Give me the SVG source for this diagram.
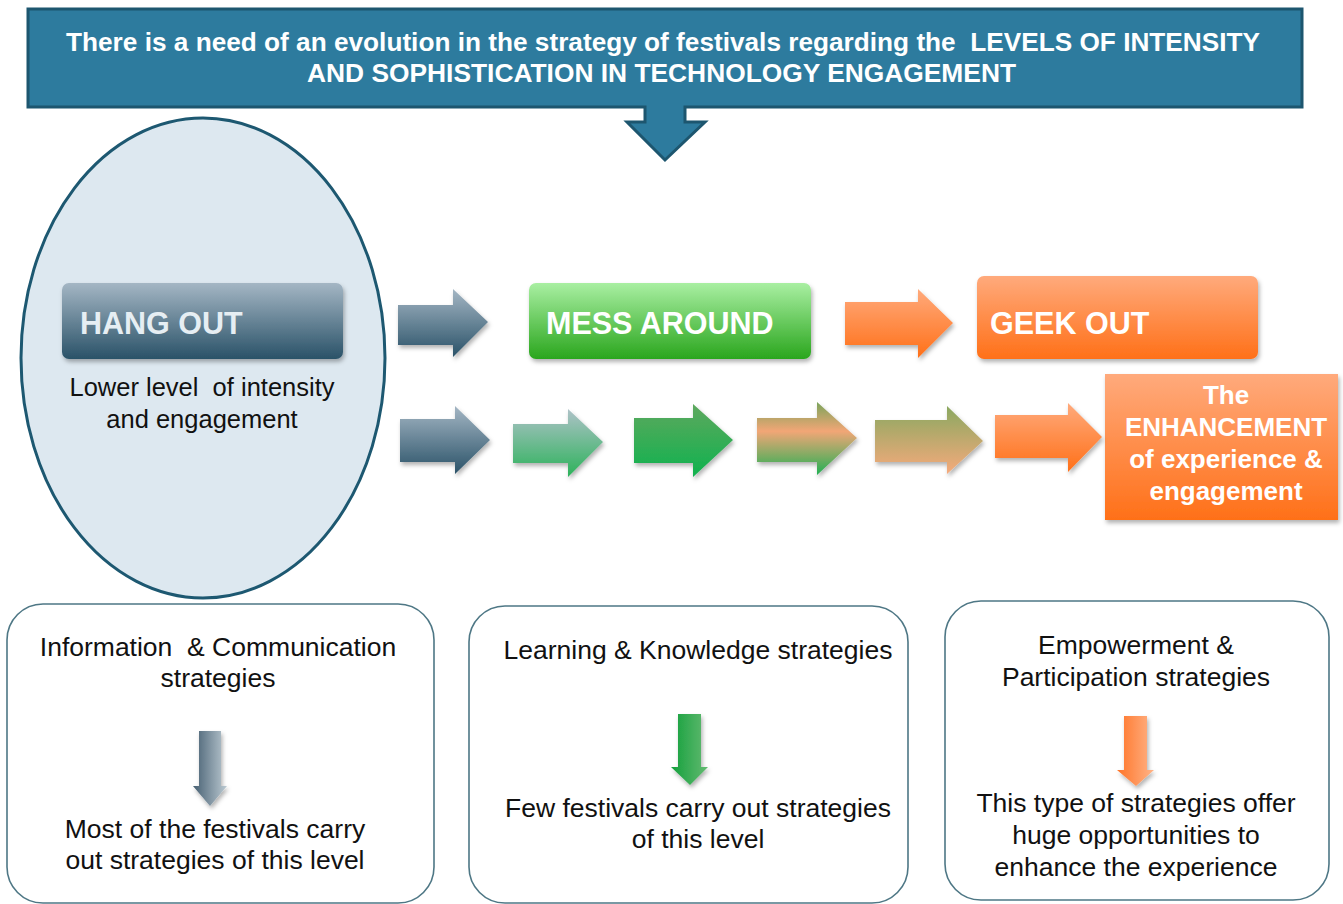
<svg xmlns="http://www.w3.org/2000/svg" width="1343" height="904" viewBox="0 0 1343 904">
  <defs>
    <linearGradient id="gSlate" x1="0" y1="0" x2="0" y2="1">
      <stop offset="0" stop-color="#a4b6c4"/>
      <stop offset="1" stop-color="#2a5268"/>
    </linearGradient>
    <linearGradient id="gGreenBox" x1="0" y1="0" x2="0" y2="1">
      <stop offset="0" stop-color="#a9efa2"/>
      <stop offset="1" stop-color="#2aa61d"/>
    </linearGradient>
    <linearGradient id="gOrange" x1="0" y1="0" x2="0" y2="1">
      <stop offset="0" stop-color="#ffaa7c"/>
      <stop offset="1" stop-color="#ff7018"/>
    </linearGradient>
    <linearGradient id="gSlateGreen" x1="0" y1="0" x2="0" y2="1">
      <stop offset="0" stop-color="#aec2c8"/>
      <stop offset="1" stop-color="#2cb25a"/>
    </linearGradient>
    <linearGradient id="gGreen" x1="0" y1="0" x2="0" y2="1">
      <stop offset="0" stop-color="#5ea85e"/>
      <stop offset="1" stop-color="#0fb24e"/>
    </linearGradient>
    <linearGradient id="gMix" x1="0" y1="0" x2="0" y2="1">
      <stop offset="0" stop-color="#7aa45a"/>
      <stop offset="0.4" stop-color="#f2a676"/>
      <stop offset="1" stop-color="#22b054"/>
    </linearGradient>
    <linearGradient id="gOliveOrange" x1="0" y1="0" x2="0" y2="1">
      <stop offset="0" stop-color="#8aa860"/>
      <stop offset="1" stop-color="#f6aa7c"/>
    </linearGradient>
    <linearGradient id="gDownSlate" x1="0" y1="0" x2="1" y2="0">
      <stop offset="0" stop-color="#465f72"/>
      <stop offset="1" stop-color="#bccad2"/>
    </linearGradient>
    <linearGradient id="gDownGreen" x1="0" y1="0" x2="1" y2="0">
      <stop offset="0" stop-color="#14a03c"/>
      <stop offset="1" stop-color="#64ba72"/>
    </linearGradient>
    <linearGradient id="gDownOrange" x1="0" y1="0" x2="1" y2="0">
      <stop offset="0" stop-color="#ff7428"/>
      <stop offset="1" stop-color="#ffb488"/>
    </linearGradient>
    <filter id="shadow" x="-10%" y="-10%" width="130%" height="140%">
      <feDropShadow dx="1.5" dy="3" stdDeviation="2" flood-color="#000" flood-opacity="0.3"/>
    </filter>
  </defs>
  <style>
    text { white-space: pre; }
    .banner { fill: #2d7b9e; stroke: #1d566f; stroke-width: 3; }
    .bannerText { font-family: "Liberation Sans", Arial, sans-serif; font-weight: bold; font-size: 25px; fill: #ffffff; }
    .stageText { font-family: "Liberation Sans", Arial, sans-serif; font-weight: bold; font-size: 30.5px; fill: #ffffff; }
    .resultText { font-family: "Liberation Sans", Arial, sans-serif; font-weight: bold; font-size: 26px; fill: #ffffff; text-anchor: middle; }
    .body { font-family: "Liberation Sans", Arial, sans-serif; font-size: 26.5px; fill: #111111; text-anchor: middle; }
    .note { font-family: "Liberation Sans", Arial, sans-serif; font-size: 25.5px; fill: #111111; text-anchor: middle; }
    .panel { fill: #ffffff; stroke: #4e7785; stroke-width: 1.6; }
  </style>

  <rect width="1343" height="904" fill="#ffffff"/>

  <!-- heading callout with downward pointer -->
  <g id="heading">
    <path class="banner" d="M28,9 H1302 V107 H685 V122 H705 L665,160 L627,122 H645 V107 H28 Z"/>
    <text class="bannerText" x="66" y="51" textLength="1194" lengthAdjust="spacingAndGlyphs">There is a need of an evolution in the strategy of festivals regarding the  LEVELS OF INTENSITY</text>
    <text class="bannerText" x="307" y="82" textLength="709" lengthAdjust="spacingAndGlyphs">AND SOPHISTICATION IN TECHNOLOGY ENGAGEMENT</text>
  </g>

  <!-- first level: hang out -->
  <g id="hang-out">
    <ellipse cx="203" cy="358" rx="182" ry="240" fill="#dde8f0" stroke="#1d5871" stroke-width="3"/>
    <rect x="62" y="283" width="281" height="76" rx="7" fill="url(#gSlate)" filter="url(#shadow)"/>
    <text class="stageText" x="80" y="334" style="fill:#e6eef3">HANG OUT</text>
    <text class="note" x="202" y="396">Lower level  of intensity</text>
    <text class="note" x="202" y="428">and engagement</text>
  </g>

  <!-- second level: mess around -->
  <g id="mess-around">
    <rect x="529" y="283" width="282" height="76" rx="7" fill="url(#gGreenBox)" filter="url(#shadow)"/>
    <text class="stageText" x="546" y="334">MESS AROUND</text>
  </g>

  <!-- third level: geek out -->
  <g id="geek-out">
    <rect x="977" y="276" width="281" height="83" rx="7" fill="url(#gOrange)" filter="url(#shadow)"/>
    <text class="stageText" x="990" y="334">GEEK OUT</text>
  </g>

  <!-- outcome -->
  <g id="enhancement">
    <rect x="1105" y="374" width="233" height="146" fill="url(#gOrange)" filter="url(#shadow)"/>
    <text class="resultText" x="1226" y="404">The</text>
    <text class="resultText" x="1226" y="436">ENHANCEMENT</text>
    <text class="resultText" x="1226" y="468">of experience &amp;</text>
    <text class="resultText" x="1226" y="500">engagement</text>
  </g>

  <!-- strategy panels -->
  <g id="info-communication">
    <rect class="panel" x="7" y="604" width="427" height="299" rx="36"/>
    <text class="body" x="218" y="656">Information  &amp; Communication</text>
    <text class="body" x="218" y="687">strategies</text>
    <path d="M199,731 H221 V786 H227 L210,806 L193,786 H199 Z" fill="url(#gDownSlate)" filter="url(#shadow)"/>
    <text class="body" x="215" y="838">Most of the festivals carry</text>
    <text class="body" x="215" y="869">out strategies of this level</text>
  </g>

  <g id="learning-knowledge">
    <rect class="panel" x="469" y="606" width="439" height="297" rx="36"/>
    <text class="body" x="698" y="659">Learning &amp; Knowledge strategies</text>
    <path d="M678,714 H701 V767 H708 L690,785 L671,767 H678 Z" fill="url(#gDownGreen)" filter="url(#shadow)"/>
    <text class="body" x="698" y="817">Few festivals carry out strategies</text>
    <text class="body" x="698" y="848">of this level</text>
  </g>

  <g id="empowerment-participation">
    <rect class="panel" x="945" y="601" width="384" height="299" rx="36"/>
    <text class="body" x="1136" y="654">Empowerment &amp;</text>
    <text class="body" x="1136" y="686">Participation strategies</text>
    <path d="M1124,716 H1147 V770 H1154 L1136,786 L1117,770 H1124 Z" fill="url(#gDownOrange)" filter="url(#shadow)"/>
    <text class="body" x="1136" y="812">This type of strategies offer</text>
    <text class="body" x="1136" y="844">huge opportunities to</text>
    <text class="body" x="1136" y="876">enhance the experience</text>
  </g>

  <!-- progression arrows -->
  <g id="connectors" filter="url(#shadow)">
    <path d="M398,305 H453 V289 L488,322 L453,357 V345 H398 Z" fill="url(#gSlate)"/>
    <path d="M845,302 H918 V289 L953,323 L918,358 V345 H845 Z" fill="url(#gOrange)"/>
    <path d="M400,419 H455 V406 L490,440 L455,474 V462 H400 Z" fill="url(#gSlate)"/>
    <path d="M513,424 H568 V409 L603,442 L568,477 V463 H513 Z" fill="url(#gSlateGreen)"/>
    <path d="M634,418 H693 V404 L733,440 L693,477 V463 H634 Z" fill="url(#gGreen)"/>
    <path d="M757,418 H817 V402 L857,438 L817,475 V462 H757 Z" fill="url(#gMix)"/>
    <path d="M875,420 H947 V406 L983,441 L947,474 V462 H875 Z" fill="url(#gOliveOrange)"/>
    <path d="M995,415 H1068 V403 L1102,437 L1068,472 V458 H995 Z" fill="url(#gOrange)"/>
  </g>
</svg>
